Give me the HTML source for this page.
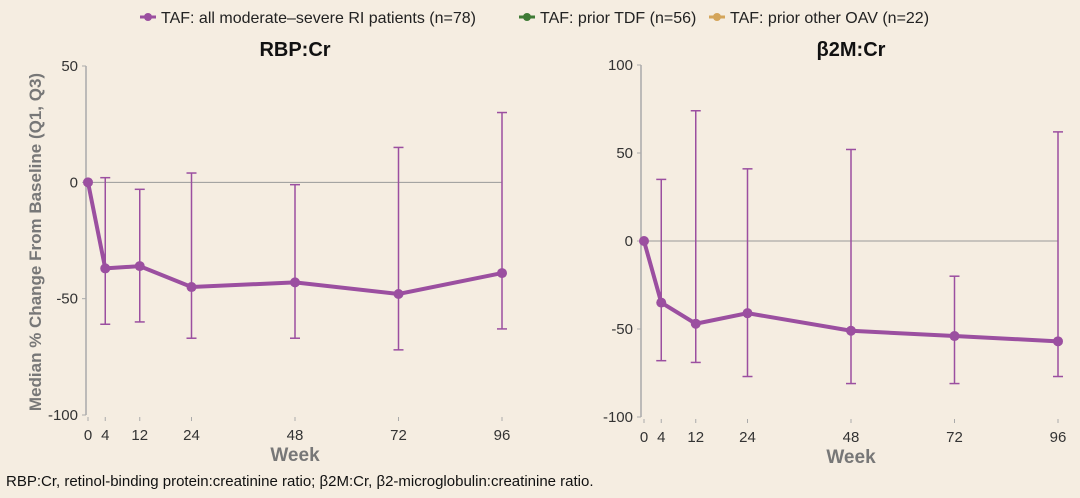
<!DOCTYPE html>
<html><head><meta charset="utf-8"><style>
body{margin:0;background:#f5ede1;font-family:"Liberation Sans",sans-serif}
svg{display:block}
</style></head><body>
<svg id="c" width="1080" height="498">
<rect width="1080" height="498" fill="#f5ede1"/>
</svg>
<script>
const weeks=[0,4,12,24,48,72,96];
const rbpMedian=[0,-37,-36,-45,-43,-48,-39];
const rbpQ1=[null,-61,-60,-67,-67,-72,-63];
const rbpQ3=[null,2,-3,4,-1,15,30];
const b2mMedian=[0,-35,-47,-41,-51,-54,-57];
const b2mQ1=[null,-68,-69,-77,-81,-81,-77];
const b2mQ3=[null,35,74,41,52,-20,62];
const rbpTicks=[50,0,-50,-100];
const b2mTicks=[100,50,0,-50,-100];
const legendLabels=["TAF: all moderate–severe RI patients (n=78)","TAF: prior TDF (n=56)","TAF: prior other OAV (n=22)"];
const legendColors=["#9b4fa0","#3e7a35","#d4a55a"];
const NS="http://www.w3.org/2000/svg";
const svg=document.getElementById('c');
const PURPLE="#9b4fa0";
function mk(t,a,p){const e=document.createElementNS(NS,t);for(const k in a)e.setAttribute(k,a[k]);(p||svg).appendChild(e);return e;}
function txt(s,a,p){const e=mk('text',a,p);e.textContent=s;return e;}

let lx=[140,519,709];
legendLabels.forEach((l,i)=>{
  const g=mk('g',{});
  
  
  mk('line',{x1:lx[i],x2:lx[i]+16,y1:17,y2:17,stroke:legendColors[i],'stroke-width':3},g);
  mk('circle',{cx:lx[i]+8,cy:17,r:4,fill:legendColors[i]},g);
  txt(l,{x:lx[i]+21,y:23,'font-size':16,fill:'#222'},g);
});

function panel(name,title,x0,x1,yTop,yBot,ymax,ymin,ticks,med,q1,q3,axisX){
  const g=mk('g',{});
  
  
  const sx=w=>x0+(x1-x0)*w/96;
  const sy=v=>yTop+(yBot-yTop)*(ymax-v)/(ymax-ymin);
  const t=txt(title,{x:(x0+x1)/2,y:56,'font-size':20,'font-weight':'bold','text-anchor':'middle',fill:'#111'},g);
  
  mk('line',{x1:axisX,x2:axisX,y1:yTop,y2:yBot,stroke:'#aaa','stroke-width':1.5},g);
  ticks.forEach(v=>{
    mk('line',{x1:axisX-4,x2:axisX,y1:sy(v),y2:sy(v),stroke:'#aaa'},g);
    const l=txt(v,{x:axisX-8,y:sy(v)+5,'font-size':15,'text-anchor':'end',fill:'#333'},g);
    
  });
  mk('line',{x1:axisX,x2:x1,y1:sy(0),y2:sy(0),stroke:'#999','stroke-width':1},g);
  weeks.forEach(w=>{
    mk('line',{x1:sx(w),x2:sx(w),y1:yBot+2,y2:yBot+6,stroke:'#aaa'},g);
    const l=txt(w,{x:sx(w),y:yBot+25,'font-size':15,'text-anchor':'middle',fill:'#333'},g);
    
  });
  const wl=txt('Week',{x:(x0+x1)/2,y:yBot+46,'font-size':19,'font-weight':'bold','text-anchor':'middle',fill:'#777'},g);
  
  weeks.forEach((w,i)=>{
    if(q1[i]==null)return;
    const e=mk('g',{stroke:PURPLE,'stroke-width':1.5},g);
    
    mk('line',{x1:sx(w),x2:sx(w),y1:sy(q3[i]),y2:sy(q1[i])},e);
    mk('line',{x1:sx(w)-5,x2:sx(w)+5,y1:sy(q3[i]),y2:sy(q3[i])},e);
    mk('line',{x1:sx(w)-5,x2:sx(w)+5,y1:sy(q1[i]),y2:sy(q1[i])},e);
  });
  const pl=mk('polyline',{points:weeks.map((w,i)=>sx(w)+','+sy(med[i])).join(' '),fill:'none',stroke:PURPLE,'stroke-width':4},g);
  
  weeks.forEach((w,i)=>{
    const c=mk('circle',{cx:sx(w),cy:sy(med[i]),r:5,fill:PURPLE},g);
    
  });
}
panel('rbp-panel','RBP:Cr',88,502,66,415,50,-100,rbpTicks,rbpMedian,rbpQ1,rbpQ3,86);
panel('b2m-panel','β2M:Cr',644,1058,65,417,100,-100,b2mTicks,b2mMedian,b2mQ1,b2mQ3,641);

const yt=txt('Median % Change From Baseline (Q1, Q3)',{x:0,y:0,'font-size':17,'font-weight':'bold','text-anchor':'middle',fill:'#777',transform:'translate(41,242) rotate(-90)'});


const fn=txt('RBP:Cr, retinol-binding protein:creatinine ratio; β2M:Cr, β2-microglobulin:creatinine ratio.',{x:6,y:486,'font-size':15,fill:'#111'});


</script>
</body></html>
